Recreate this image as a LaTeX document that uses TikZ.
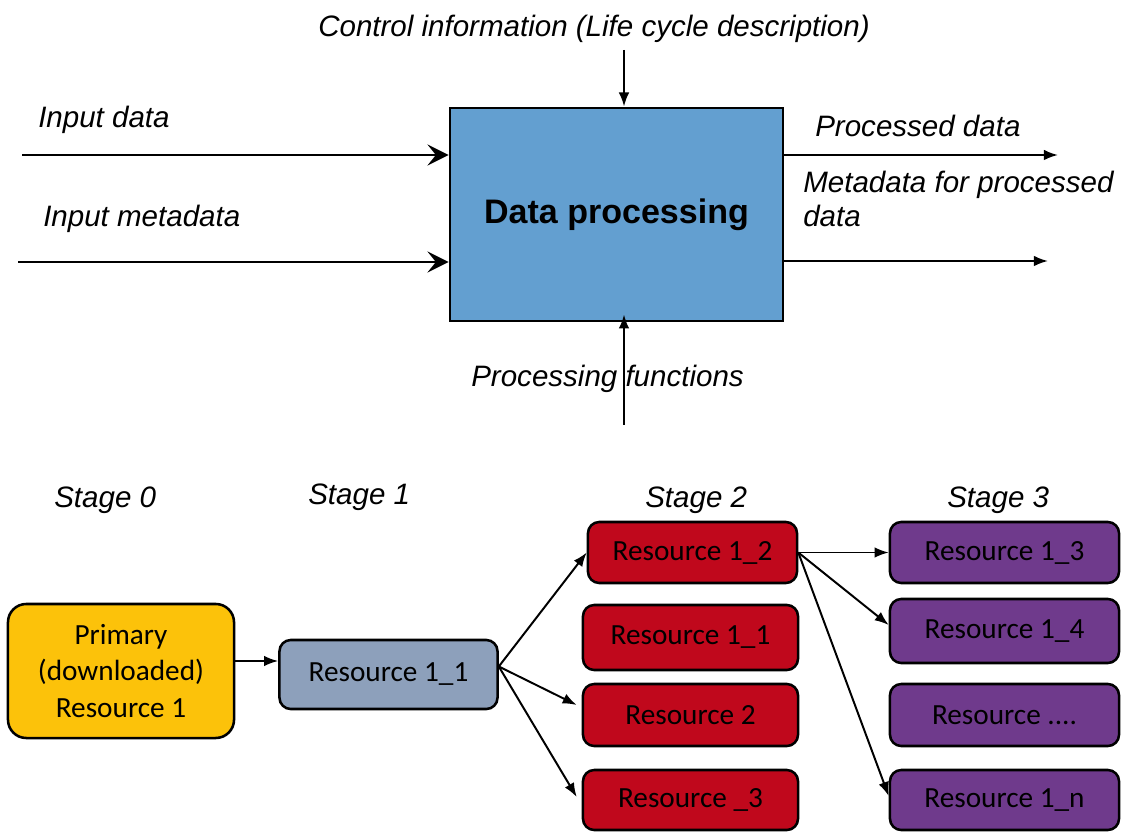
\documentclass[tikz,border=0pt]{standalone}
\usepackage{fontspec}
\setmainfont{Liberation Sans}
\newfontfamily\calfont{Carlito}
\usepackage{tikz}
\usetikzlibrary{arrows.meta,positioning,calc}
\definecolor{procblue}{RGB}{99,159,208}
\definecolor{primyellow}{RGB}{252,194,10}
\definecolor{stagegrey}{RGB}{141,160,187}
\definecolor{stagered}{RGB}{192,8,28}
\definecolor{stagepurple}{RGB}{111,58,140}
\tikzset{
  resbox/.style={rectangle, rounded corners=8pt, draw=black, line width=1.8pt, fill=#1,
                 align=center, font=\calfont\fontsize{20.8pt}{26pt}\selectfont, inner sep=0pt},
  lbl/.style={anchor=base west, inner sep=0pt, align=left, font=\itshape\fontsize{21pt}{24.2pt}\selectfont},
  arr/.style={-{Latex[length=10pt,width=7.5pt]}, line width=1.4pt, draw=black},
  inarr/.style={-{Stealth[length=15pt,width=15pt,inset=6pt]}, line width=2pt, draw=black},
}

\begin{document}
\begin{tikzpicture}[x=0.025cm, y=-0.025cm]
\useasboundingbox (0,0) rectangle (1123,832);
% data processing block
\node[rectangle, draw=black, line width=2pt, fill=procblue, minimum width=8.325cm, minimum height=5.325cm, font=\bfseries\fontsize{24.2pt}{29pt}\selectfont] (proc) at (616.5,214.5) {Data processing};
\node[lbl] (ctl) at (318,37) {Control information (Life cycle description)};
\node[lbl] (ind) at (38,128) {Input data};
\node[lbl] (inmd) at (43,227) {Input metadata};
\node[lbl] (outd) at (815,137) {Processed data};
\node[lbl] (outmd) at (803,227) {Metadata for processed\\data};
\coordinate (ctlS) at (624,50);
\draw[arr] (ctlS) -- (ctlS |- proc.north);
\coordinate (inS) at (22,155);
\draw[inarr] (inS) -- (inS -| proc.west);
\coordinate (inmS) at (18,262);
\draw[inarr] (inmS) -- (inmS -| proc.west);
\coordinate (outE) at (1058,155);
\draw[arr] (outE -| proc.east) -- (outE);
\coordinate (outmE) at (1048,261);
\draw[arr] (outmE -| proc.east) -- (outmE);
\coordinate (fnS) at (624,425);
\draw[arr] (fnS) -- ([yshift=0.2cm]fnS |- proc.south);
\node[lbl] (fn) at (471,387) {Processing functions};
% stages
\node[lbl] (st0) at (54,507) {Stage 0};
\node[lbl] (st1) at (308,504) {Stage 1};
\node[lbl] (st2) at (645,507) {Stage 2};
\node[lbl] (st3) at (947,507) {Stage 3};
\node[resbox=primyellow, rounded corners=13pt, minimum width=5.65cm, minimum height=3.35cm] (prim) at (121,671) {Primary\\(downloaded)\\Resource 1};
\node[resbox=stagegrey, minimum width=5.45cm, minimum height=1.725cm] (r11) at (388.5,674.5) {Resource 1\_1};
\node[resbox=stagered, minimum width=5.225cm, minimum height=1.525cm] (r12) at (692.5,552.5) {Resource 1\_2};
\node[resbox=stagered, minimum width=5.375cm, minimum height=1.625cm] (r21) at (690.5,637.5) {Resource 1\_1};
\node[resbox=stagered, minimum width=5.375cm, minimum height=1.55cm] (r2) at (690.5,715) {Resource 2};
\node[resbox=stagered, minimum width=5.375cm, minimum height=1.5cm] (r3) at (690.5,800) {Resource \_3};
\node[resbox=stagepurple, minimum width=5.725cm, minimum height=1.525cm] (r13) at (1004.5,552.5) {Resource 1\_3};
\node[resbox=stagepurple, minimum width=5.725cm, minimum height=1.6cm] (r14) at (1004.5,631) {Resource 1\_4};
\node[resbox=stagepurple, minimum width=5.725cm, minimum height=1.55cm] (rdots) at (1004.5,715) {Resource ....};
\node[resbox=stagepurple, minimum width=5.725cm, minimum height=1.5cm] (r1n) at (1004.5,800) {Resource 1\_n};
\draw[arr] ([yshift=0.25cm]prim.east) -- ([yshift=0.25cm]prim.east -| r11.west);
\coordinate (f1) at ([yshift=0.2cm]r11.east);
\draw[arr] (f1) -- (r12.west);
\draw[arr] (f1) -- ([xshift=-0.125cm,yshift=0.25cm]r2.west);
\draw[arr] (f1) -- ([xshift=-0.125cm,yshift=0.075cm]r3.west);
\draw[arr] (r12.east) -- (r12.east -| r13.west);
\draw[arr] (r12.east) -- ([yshift=0.15cm]r14.west);
\draw[arr] (r12.east) -- ([yshift=0.1cm]r1n.west);
\end{tikzpicture}
\end{document}
